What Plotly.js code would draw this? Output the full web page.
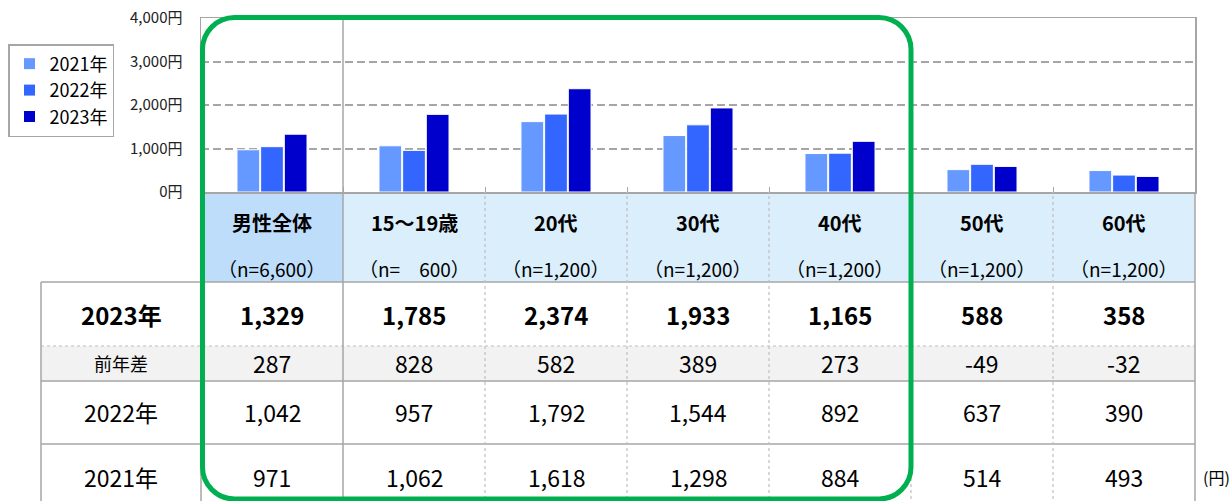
<!DOCTYPE html>
<html>
<head>
<meta charset="utf-8">
<script src="https://cdn.plot.ly/plotly-3.0.1.min.js"></script>
<style>html,body{margin:0;padding:0;background:#fff;}#chart{width:1232px;height:501px;}</style>
</head>
<body>
<div id="chart"></div>
<script>
// ---- data ----
const categories = ['男性全体', '15～19歳', '20代', '30代', '40代', '50代', '60代'];
const sampleLabels = ['（n=6,600）', '（n=\u3000600）', '（n=1,200）', '（n=1,200）', '（n=1,200）', '（n=1,200）', '（n=1,200）'];
const years = ['2021年', '2022年', '2023年'];
const values2021 = [971, 1062, 1618, 1298, 884, 514, 493];
const values2022 = [1042, 957, 1792, 1544, 892, 637, 390];
const values2023 = [1329, 1785, 2374, 1933, 1165, 588, 358];
const diffPrevYear = [287, 828, 582, 389, 273, -49, -32];
const yTicks = [0, 1000, 2000, 3000, 4000];
const yTickText = ['0円', '1,000円', '2,000円', '3,000円', '4,000円'];
const rowLabels = ['2023年', '前年差', '2022年', '2021年'];
const unitLabel = '(円)';

// ---- layout helpers ----
const W = 1232, H = 501;
const M = {l: 201, r: 37, t: 18, b: 0};
const PW = W - M.l - M.r, PH = H - M.t - M.b;
const xRange = [-0.5, categories.length - 0.5];
const px2x = p => (p - M.l) / PW;            // pixel -> paper x
const py2y = p => (H - M.b - p) / PH;        // pixel -> paper y
const cx = v => (v - xRange[0]) / (xRange[1] - xRange[0]); // category index -> paper x
const FONT = '"Noto Sans CJK JP", "Noto Sans", sans-serif';
const fmt = v => v.toLocaleString('en-US');

const colors = ['#6699FF', '#3366FF', '#0000CC'];
const series = [values2021, values2022, values2023];
const traces = series.map((vals, i) => ({
  type: 'bar', name: years[i], x: categories, y: vals,
  marker: {color: colors[i], line: {color: '#FFFFFF', width: 1}},
  hoverinfo: 'skip'
}));

const SOLID = {color: '#A6A6A6', width: 1.5};
const DOT = {color: '#BFBFBF', width: 1.2, dash: 'dot'};
const shapes = [];
const annotations = [];

// plot-area separator after overall column
shapes.push({type: 'line', xref: 'x', yref: 'y', x0: 0.5, x1: 0.5, y0: 0, y1: 4000, line: SOLID, layer: 'below'});

// table geometry (pixels)
const headTop = 192, headBot = 282, rowB = [282, 346, 381, 444, 512];
const tableLeft = 41;
const rightEdge = cx(xRange[1]);

// header backgrounds
categories.forEach((c, i) => {
  shapes.push({type: 'rect', xref: 'paper', yref: 'paper', x0: cx(i - 0.5), x1: cx(i + 0.5),
    y0: py2y(headBot), y1: py2y(headTop), fillcolor: i === 0 ? '#BDDDFB' : '#DAEEFB', line: {width: 0}, layer: 'below'});
});
// 前年差 row background
shapes.push({type: 'rect', xref: 'paper', yref: 'paper', x0: px2x(tableLeft), x1: rightEdge,
  y0: py2y(rowB[2]), y1: py2y(rowB[1]), fillcolor: '#F2F2F2', line: {width: 0}, layer: 'below'});

// horizontal borders
[[rowB[0], SOLID], [rowB[1], DOT], [rowB[2], SOLID], [rowB[3], SOLID]].forEach(([p, ln]) => {
  shapes.push({type: 'line', xref: 'paper', yref: 'paper', x0: px2x(tableLeft), x1: rightEdge, y0: py2y(p), y1: py2y(p), line: ln});
});
// vertical borders
shapes.push({type: 'line', xref: 'paper', yref: 'paper', x0: px2x(tableLeft), x1: px2x(tableLeft), y0: py2y(H + 10), y1: py2y(headBot), line: SOLID});
for (let b = 0; b <= categories.length; b++) {
  const ln = (b === 0 || b === 1 || b === categories.length) ? SOLID : DOT;
  shapes.push({type: 'line', xref: 'paper', yref: 'paper', x0: cx(b - 0.5), x1: cx(b - 0.5), y0: py2y(H + 10), y1: py2y(headTop), line: ln});
}

const ann = (o) => Object.assign({showarrow: false, xanchor: 'center', yanchor: 'middle'}, o);

// header texts
categories.forEach((c, i) => {
  annotations.push(ann({xref: 'x', yref: 'paper', x: c, y: py2y(222), text: '<b>' + c + '</b>', font: {family: FONT, size: 20, color: '#000'}}));
  annotations.push(ann({xref: 'x', yref: 'paper', x: c, y: py2y(268), text: sampleLabels[i], font: {family: FONT, size: 19, color: '#000'}}));
});

// row labels and values
const rowCenters = [314, 363, 412, 477];
const rowData = [values2023, diffPrevYear, values2022, values2021];
const rowBold = [true, false, false, false];
const rowSize = [24, 23, 23, 23];
const labelSize = [24, 18, 23, 23];
rowLabels.forEach((lab, r) => {
  annotations.push(ann({xref: 'paper', yref: 'paper', x: px2x((tableLeft + M.l) / 2), y: py2y(rowCenters[r]),
    text: rowBold[r] ? '<b>' + lab + '</b>' : lab, font: {family: FONT, size: labelSize[r], color: '#000'}}));
  rowData[r].forEach((v, i) => {
    annotations.push(ann({xref: 'x', yref: 'paper', x: categories[i], y: py2y(rowCenters[r]),
      text: rowBold[r] ? '<b>' + fmt(v) + '</b>' : fmt(v), font: {family: FONT, size: rowSize[r], color: '#000'}}));
  });
});
annotations.push(ann({xref: 'paper', yref: 'paper', x: px2x(1216), y: py2y(477), text: unitLabel, font: {family: FONT, size: 16, color: '#000'}}));

// green highlight rounded rectangle
(function () {
  const xL = px2x(202.5), xR = px2x(911), yT = py2y(17.5), yB = py2y(499);
  const r = 32, k = 0.5523;
  const rx = r / PW, ry = r / PH;
  const p = [
    `M ${xL},${yB + ry}`,
    `L ${xL},${yT - ry}`,
    `C ${xL},${yT - ry + ry * k} ${xL + rx - rx * k},${yT} ${xL + rx},${yT}`,
    `L ${xR - rx},${yT}`,
    `C ${xR - rx + rx * k},${yT} ${xR},${yT - ry + ry * k} ${xR},${yT - ry}`,
    `L ${xR},${yB + ry}`,
    `C ${xR},${yB + ry - ry * k} ${xR - rx + rx * k},${yB} ${xR - rx},${yB}`,
    `L ${xL + rx},${yB}`,
    `C ${xL + rx - rx * k},${yB} ${xL},${yB + ry - ry * k} ${xL},${yB + ry}`,
    'Z'
  ].join(' ');
  shapes.push({type: 'path', xref: 'paper', yref: 'paper', path: p, line: {color: '#00B050', width: 5}, fillcolor: 'rgba(0,0,0,0)', layer: 'above'});
})();

const layout = {
  width: W, height: H,
  margin: M,
  paper_bgcolor: '#FFFFFF', plot_bgcolor: '#FFFFFF',
  font: {family: FONT, color: '#000'},
  barmode: 'group', bargap: 0.5, bargroupgap: 0.04,
  showlegend: true,
  legend: {x: px2x(8), y: py2y(44), xanchor: 'left', yanchor: 'top', traceorder: 'normal',
    bordercolor: '#A6A6A6', borderwidth: 1.5, bgcolor: '#FFFFFF', font: {family: FONT, size: 18, color: '#000'},
    itemwidth: 30, tracegroupgap: 0},
  xaxis: {type: 'category', range: xRange, showticklabels: false, showgrid: false, zeroline: false,
    showline: true, mirror: true, linecolor: '#A6A6A6', linewidth: 1.5,
    ticks: 'inside', tickson: 'boundaries', ticklen: 5, tickcolor: '#A6A6A6', tickwidth: 1},
  yaxis: {domain: [py2y(headTop), 1], range: [0, 4000], tickvals: yTicks, ticktext: yTickText,
    showgrid: true, gridcolor: '#A6A6A6', gridwidth: 2, griddash: '8px,4px', zeroline: false,
    showline: true, mirror: true, linecolor: '#A6A6A6', linewidth: 1.5, ticks: '', ticklabelstandoff: 14,
    tickfont: {family: FONT, size: 15, color: '#222'}},
  shapes: shapes,
  annotations: annotations
};

Plotly.newPlot('chart', traces, layout, {displayModeBar: false, staticPlot: true});
</script>
</body>
</html>
